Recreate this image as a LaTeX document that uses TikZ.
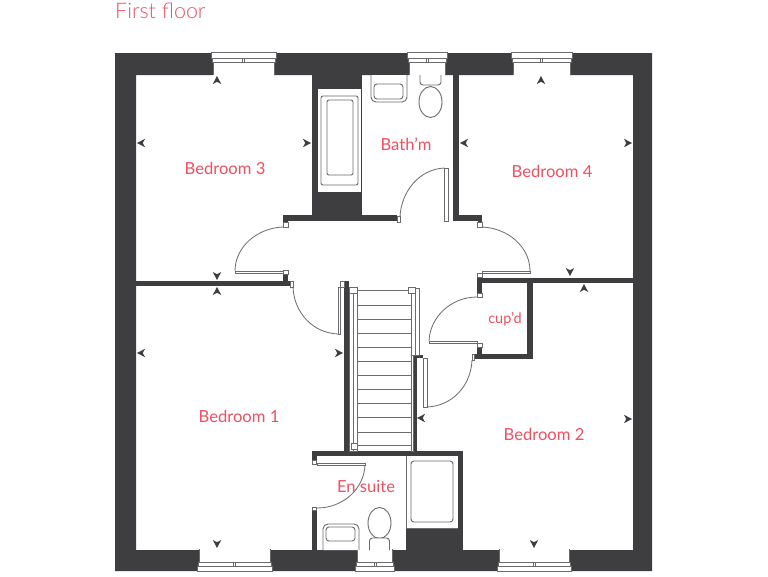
\documentclass[tikz,border=0pt]{standalone}
\usepackage{fontspec}
\setmainfont{Lato}
\newfontfamily\lightf{Lato Light}
\definecolor{wallc}{HTML}{3E3E40}
\definecolor{linec}{HTML}{6A6A6C}
\definecolor{labelc}{HTML}{F24E60}
\tikzset{
  wall/.style={fill=wallc,draw=none},
  thin line/.style={draw=linec,line width=0.8pt},
  fixture/.style={draw=linec,line width=0.9pt,fill=white},
  swing/.style={draw=linec,line width=0.8pt},
  leaf/.style={draw=linec,line width=0.6pt,fill=white},
  tread/.style={draw=linec,line width=1pt},
  room/.style={text=labelc,font=\fontsize{16.6}{20}\selectfont,inner sep=0pt},
}
\newcommand{\winw}[4]{% centre x, half width, wall face y, yscale
  \begin{scope}[shift={(#1,#3)},yscale=#4]
    \fill[white] (-#2,-1) rectangle (#2,21);
    \draw[thin line] (-#2,0) -- (-#2,14) (#2,0) -- (#2,14);
    \draw[leaf] (-#2-1,13) rectangle (#2+1,17);
    \draw[leaf] (-1,13) rectangle (1,17);
    \draw[leaf] (-#2-2,17) rectangle (#2+2,22.5);
  \end{scope}}
\newcommand{\tick}[3]{\fill[wallc,shift={(#1,#2)},rotate=#3] (4,0) -- (-4,-4.2) -- (-1.8,0) -- (-4,4.2) -- cycle;}
\begin{document}
\begin{tikzpicture}[x=1pt,y=-1pt]
\useasboundingbox (0,0) rectangle (768,576);
\fill[white] (0,0) rectangle (768,576);
% outer walls
\fill[wall,even odd rule] (115,53) rectangle (652,571) (136,75) rectangle (633,550);
\fill[wall] (312,75) rectangle (362,217);
\fill[wall] (453,75) rectangle (459,217);
\fill[wall] (283,215) rectangle (397,221);
\fill[wall] (283,215) rectangle (288,227);
\fill[wall] (453,215) rectangle (482,221);
\fill[wall] (478,215) rectangle (482,227);
\fill[wall] (136,281) rectangle (293,286);
\fill[wall] (283,272) rectangle (288,286);
\fill[wall] (344,281) rectangle (349,452);
\fill[wall] (413,355) rectangle (417,452);
\fill[wall] (413,355) rectangle (423,358);
\fill[wall] (477,278) rectangle (633,283);
\fill[wall] (477,274) rectangle (482,296);
\fill[wall] (527,278) rectangle (533,359);
\fill[wall] (473,354) rectangle (533,359);
\fill[wall] (477,344) rectangle (482,359);
\fill[wall] (312,451) rectangle (463,456);
\fill[wall] (458,451) rectangle (463,550);
\fill[wall] (312,451) rectangle (317,462);
\fill[wall] (312,509) rectangle (317,550);
\fill[wall] (406,528) rectangle (463,550);
% windows
\winw{243.5}{30.5}{75}{-1}
\winw{541.5}{28.5}{75}{-1}
\winw{427}{18}{75}{-1}
\winw{234.5}{35.5}{549}{1}
\winw{534}{35}{549}{1}
\winw{375}{17.5}{549}{1}
% bath upstairs
\fill[white] (318,89) rectangle (361,192);
\draw[fixture,rounded corners=2pt] (321,96) rectangle (358,185);
\draw[fixture,rounded corners=2pt] (327,100) rectangle (353,175);
% bath basin and wc
\draw[fixture,rounded corners=5pt] (371,75) -- (371,102) -- (407,102) -- (407,75);
\draw[fixture,rounded corners=3pt] (374,84) -- (374,99) -- (403,99) -- (403,84) -- cycle;
\draw[fixture,rounded corners=3pt] (420,75) -- (420,85) -- (441,85) -- (441,75);
\draw[fixture] (430.5,102) ellipse [x radius=11.5,y radius=15.5];
% ensuite
\fill[white] (406,456) rectangle (458,528);
\draw[thin line] (406,456) -- (406,528) -- (458,528);
\draw[fixture,rounded corners=3pt] (411,461) rectangle (453,522);
\draw[fixture,rounded corners=5pt] (323,550) -- (323,524) -- (359,524) -- (359,550);
\draw[fixture,rounded corners=3pt] (326,527) rectangle (355,541);
\draw[fixture] (379.5,523) ellipse [x radius=11.5,y radius=15.5];
\draw[fixture,rounded corners=3pt] (369.5,550) -- (369.5,538) -- (389.5,538) -- (389.5,550);
% doors
\draw[leaf] (444.5,168) rectangle (448,221);
\draw[swing] (444.5,168) .. controls (419,169) and (401,192) .. (400,217);
\draw[leaf] (397,216) rectangle (400,222);
\draw[leaf] (235,271) rectangle (283,273.5);
\draw[swing] (283,227) .. controls (257,228) and (235,247) .. (235,271);
\draw[leaf] (283,222) rectangle (288,227);
\draw[leaf] (283,270) rectangle (288,274);
\draw[leaf] (482,271) rectangle (530,273.5);
\draw[swing] (482,227) .. controls (508,228) and (530,247) .. (530,271);
\draw[leaf] (477,222) rectangle (482,227);
\draw[leaf] (477,273) rectangle (482,277);
\draw[leaf] (338,287) rectangle (340.5,334);
\draw[leaf] (340.5,281) rectangle (344,287);
\draw[swing] (293,287) .. controls (294,313) and (313,333) .. (338,334);
\draw[leaf] (290.5,281) rectangle (293,287);
\draw[leaf] (423,358) rectangle (427,407);
\draw[swing] (427,407) .. controls (452,406) and (471,386) .. (472,360);
\draw[leaf] (472,354) rectangle (474,360);
\draw[leaf] (429,341) rectangle (477,343.5);
\draw[swing] (429,341) .. controls (430,317) and (451,297) .. (477,297);
\draw[leaf] (477,293) rectangle (482,297);
\draw[leaf] (477,343) rectangle (482,347);
\draw[leaf] (317,463) rectangle (365,465);
\draw[swing] (365,465) .. controls (364,489) and (343,508) .. (317,508);
\draw[leaf] (312,460) rectangle (316,464);
\draw[leaf] (312,507) rectangle (316,510);
% stairs
\draw[leaf] (349,290) rectangle (357,451);
\draw[thin line] (353,290) -- (353,451);
\draw[leaf] (411,288) rectangle (419,355);
\draw[leaf] (411,355) rectangle (413,451);
\draw[thin line] (415,288) -- (415,355);
\foreach \ty in {290,305,319,333,347,361,375,389,403,417,432,445}
  \draw[tread] (357,\ty) -- (411,\ty);
\draw[leaf] (349,287) rectangle (357,293);
\draw[leaf] (408,287) rectangle (415,293);
\draw[leaf] (351,443) rectangle (357,449);
% dimension ticks
\tick{217}{80}{90}\tick{141}{143}{180}\tick{307}{143}{0}\tick{217}{276}{270}
\tick{541}{80}{90}\tick{464}{143}{180}\tick{628}{143}{0}\tick{570}{272}{270}
\tick{217}{291}{90}\tick{141}{353}{180}\tick{339}{353}{0}\tick{217}{544}{270}
\tick{584}{288}{90}\tick{421}{418}{180}\tick{628}{419}{0}\tick{534}{544}{270}
% labels
\node[text=labelc,font=\lightf\fontsize{21.5}{25}\selectfont,anchor=west,inner sep=0pt] (title) at (115,11) {First floor};
\node[room] (bed3) at (225,168) {Bedroom 3};
\node[room] (bed4) at (552,171) {Bedroom 4};
\node[room] (bath) at (406,144) {Bath’m};
\node[room] (bed1) at (239,416) {Bedroom 1};
\node[room] (bed2) at (544,434) {Bedroom 2};
\node[room] (ens) at (366,487) {En suite};
\node[room,font=\fontsize{14.5}{16}\selectfont] (cup) at (505,319) {cup’d};
\end{tikzpicture}
\end{document}
